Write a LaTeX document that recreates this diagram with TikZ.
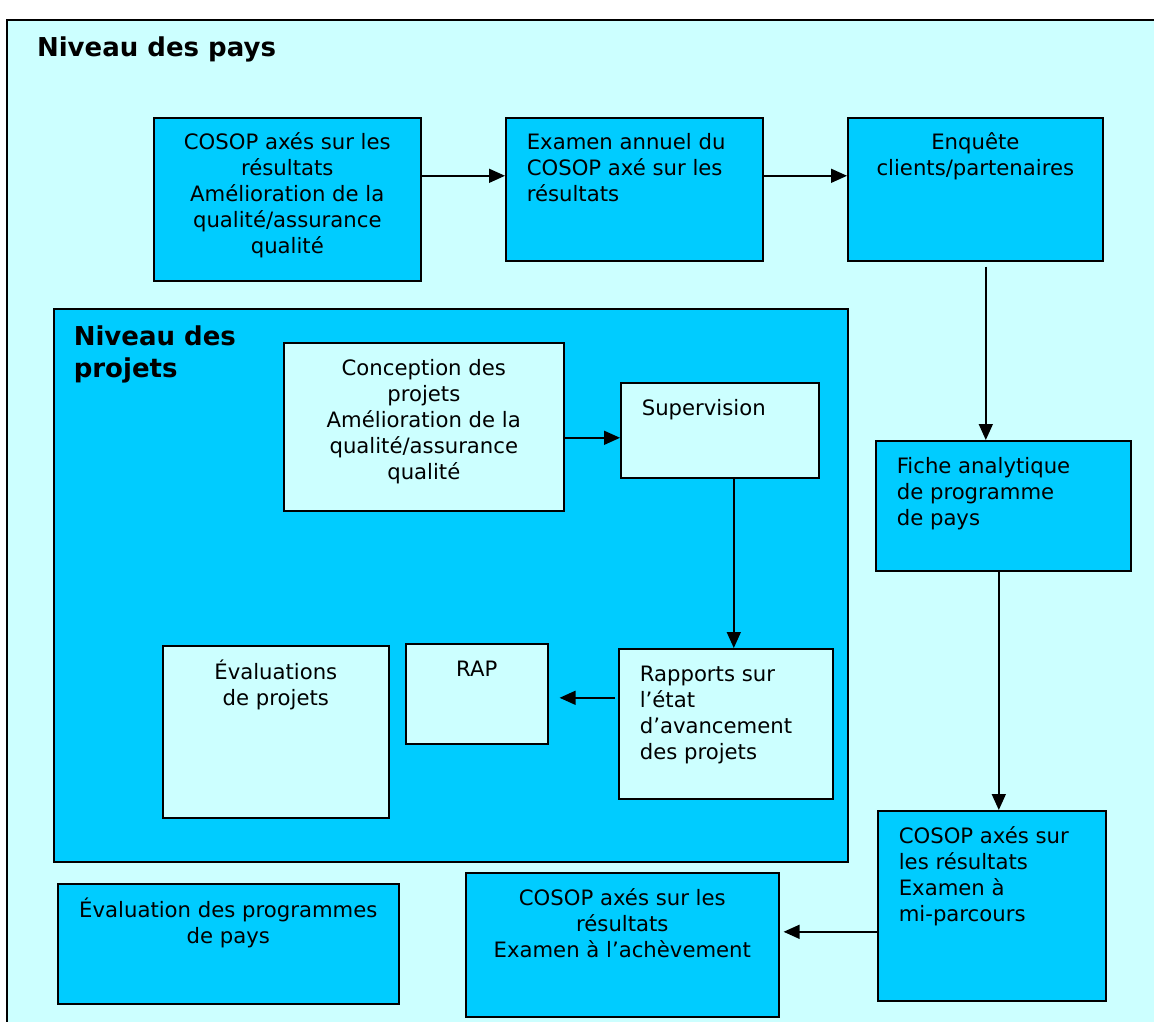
\documentclass[tikz,border=0pt]{standalone}
\usepackage{fontspec}
\setmainfont{DejaVu Sans}
\usetikzlibrary{arrows.meta,calc}
\definecolor{ccyan}{HTML}{00CCFF}
\definecolor{clight}{HTML}{CCFFFF}
% text blocks set at the top of a box of fixed size
\newcommand{\ctext}[3]{\parbox[c][#2][t]{#1}{\centering\strut #3}}
\newcommand{\ltext}[3]{\parbox[c][#2][t]{#1}{\raggedright\strut #3}}

\begin{document}
\begin{tikzpicture}[x=0.5pt, y=-0.5pt,
    box/.style={draw, line width=0.8pt, anchor=north west, inner xsep=10.5pt, inner ysep=7pt, font=\fontsize{10.6}{13}\selectfont},
    dark/.style={box, fill=ccyan},
    pale/.style={box, fill=clight},
    title/.style={font=\bfseries\fontsize{13}{16}\selectfont},
    arr/.style={-{Triangle[length=8pt,width=7pt]}, line width=0.8pt}
  ]
  \useasboundingbox (0,0) rectangle (1154,1021);
  \clip (0,0) rectangle (1154,1021);

  % country level
  \draw[line width=1.3pt, fill=clight] (7,20) rectangle (1175,1045);
  \node[title, anchor=base west] (pays) at (30,57) {Niveau des pays};

  \node[dark] (cosop) at (153,117) {\ctext{112.5pt}{67.5pt}{COSOP axés sur les\\résultats\\Amélioration de la\\qualité/assurance\\qualité}};
  \node[dark] (annuel) at (505,117) {\ltext{107.5pt}{57.5pt}{Examen annuel du\\COSOP axé sur les\\résultats}};
  \node[dark] (enquete) at (847,117) {\ctext{106.5pt}{57.5pt}{Enquête\\clients/partenaires}};
  \node[dark] (fiche) at (875,440) {\ltext{106.5pt}{51pt}{Fiche analytique\\de programme\\de pays}};
  \node[dark] (miparcours) at (877,810) {\ltext{93pt}{81pt}{COSOP axés sur\\les résultats\\Examen à\\mi-parcours}};
  \node[dark] (achevement) at (465,872) {\ctext{135.5pt}{58pt}{COSOP axés sur les\\résultats\\Examen à l’achèvement}};
  \node[dark, inner xsep=7pt] (evalprog) at (57,883) {\ctext{156.5pt}{46pt}{Évaluation des programmes\\de pays}};

  % project level
  \node[dark, title, inner xsep=10pt] (projets) at (53,308) {\ltext{377pt}{262.5pt}{Niveau des\\projets}};
  \node[pale] (conception) at (283,342) {\ctext{119pt}{70pt}{Conception des\\projets\\Amélioration de la\\qualité/assurance\\qualité}};
  \node[pale] (supervision) at (620,382) {\ltext{78pt}{33.5pt}{Supervision}};
  \node[pale] (rapports) at (618,648) {\ltext{86pt}{61pt}{Rapports sur\\l’état\\d’avancement\\des projets}};
  \node[pale] (rap) at (405,643) {\ctext{50pt}{36pt}{RAP}};
  \node[pale] (evalproj) at (162,645) {\ctext{92pt}{72pt}{Évaluations\\de projets}};

  \draw[arr] ($(cosop.east)+(0,-23.5)$) -- ($(annuel.west)+(0,-13.5)$);
  \draw[arr] ($(annuel.east)+(0,-13.5)$) -- ($(enquete.west)+(0,-13.5)$);
  \draw[arr] ($(enquete.south)+(10.5,5)$) -- ($(fiche.north)+(-17.5,0)$);
  \draw[arr] ($(fiche.south)+(-4.5,0)$) -- ($(miparcours.north)+(7,0)$);
  \draw[arr] ($(miparcours.west)+(0,26)$) -- ($(achevement.east)+(4,-13)$);
  \draw[arr] ($(conception.east)+(0,11)$) -- ($(supervision.west)+(0,7.5)$);
  \draw[arr] ($(supervision.south)+(14,0)$) -- ($(rapports.north)+(8,0)$);
  \draw[arr] ($(rapports.west)+(-3,-26)$) -- ($(rap.east)+(11,4)$);
\end{tikzpicture}
\end{document}
